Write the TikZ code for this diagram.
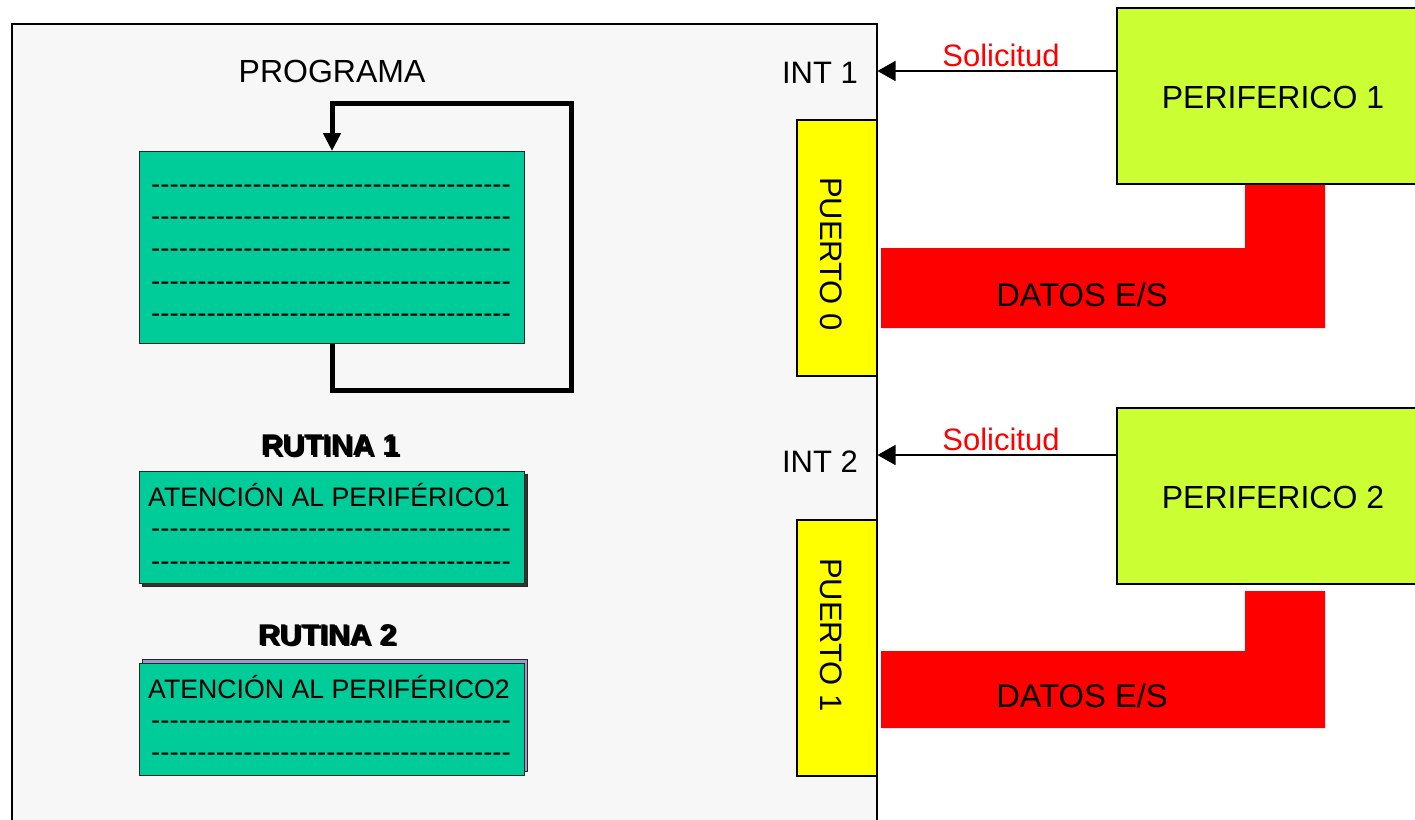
\documentclass[tikz,border=0pt]{standalone}
\usepackage{fontspec}
\setmainfont{Liberation Sans}
\usetikzlibrary{arrows.meta}

\definecolor{panelgray}{HTML}{F7F7F7}
\definecolor{codeteal}{HTML}{00CC99}
\definecolor{perilime}{HTML}{CCFF33}
\definecolor{portyellow}{HTML}{FFFF00}
\definecolor{datared}{HTML}{FF0000}
\definecolor{shadowlav}{HTML}{9999CC}

% a row of separate hyphens (kerns keep them from joining into dashes)
\newcount\hycnt
\newcommand{\hyrow}[1]{\hycnt=0 \loop-\kern0pt\advance\hycnt by 1 \ifnum\hycnt<#1\relax\repeat}

\begin{document}
\begin{tikzpicture}[x=1pt,y=-1pt,
  lbl/.style={inner sep=0, anchor=base, font=\fontsize{31}{36}\selectfont},
  biglbl/.style={inner sep=0, anchor=base, font=\fontsize{32}{38}\selectfont},
  datalbl/.style={inner sep=0, anchor=base, font=\fontsize{32.7}{38}\selectfont},
  redlbl/.style={lbl, text=datared},
  titlelbl/.style={inner sep=0, anchor=base, font=\fontsize{30}{36}\selectfont\bfseries},
  rowlbl/.style={inner sep=0, anchor=base west, font=\fontsize{27.7}{32}\selectfont},
  headlbl/.style={inner sep=0, anchor=base west, font=\fontsize{26.7}{32}\selectfont},
  codebox/.style={draw=black!85, line width=1.2, fill=codeteal, inner sep=0, anchor=north west},
  portbox/.style={draw=black, line width=1.5, fill=portyellow, inner sep=0, anchor=north west},
  peribox/.style={draw=black, line width=1.5, fill=perilime, inner sep=0, anchor=north west},
  portlbl/.style={inner sep=0, rotate=-90, font=\fontsize{31}{36}\selectfont},
  loopln/.style={line width=5, line join=miter, -{Triangle[length=18pt,width=17pt]}},
  reqln/.style={line width=1.5, -{Triangle[length=18pt,width=20pt]}},
  datashape/.style={fill=datared}
]
\useasboundingbox (0,0) rectangle (1415,819);
\clip (0,0) rectangle (1415,819);

% processor panel
\node[draw=black, line width=1.5, fill=panelgray, inner sep=0, anchor=north west,
      minimum width=865, minimum height=830] (cpu) at (11,23) {};

% main program with its endless loop
\node[biglbl] (proglbl) at (332,82) {PROGRAMA};
\node[codebox, minimum width=385, minimum height=192] (prog) at (139,151) {};
\foreach \y [count=\i] in {186,218,250,283,315}
  \node[rowlbl] (progrow\i) at (151,\y+7.5) {\hyrow{39}};
\coordinate (lx) at (332,0);
\coordinate (loopbr) at (571.5,390.5);
\coordinate (looptl) at (332,103.5);
\draw[loopln] (prog.south -| lx) |- (loopbr) |- (looptl) -- (prog.north -| lx);

% interrupt routine 1
\node[titlelbl] (r1shade) at (332,457) {RUTINA 1};
\node[titlelbl] (r1lbl) at (330,455.5) {RUTINA 1};
\node[codebox, fill=black!80, minimum width=385, minimum height=112] (r1shadow) at (142,474) {};
\node[codebox, minimum width=385, minimum height=112] (r1) at (139,471) {};
\node[headlbl] (r1head) at (148,506) {ATENCIÓN AL PERIFÉRICO1};
\node[rowlbl] (r1row1) at (151,537) {\hyrow{39}};
\node[rowlbl] (r1row2) at (151,570.5) {\hyrow{39}};

% interrupt routine 2
\node[titlelbl] (r2shade) at (329,646.5) {RUTINA 2};
\node[titlelbl] (r2lbl) at (327,645) {RUTINA 2};
\node[codebox, fill=shadowlav, minimum width=385, minimum height=112] (r2shadow) at (142,659) {};
\node[codebox, minimum width=385, minimum height=112] (r2) at (139,663) {};
\node[headlbl] (r2head) at (148,698) {ATENCIÓN AL PERIFÉRICO2};
\node[rowlbl] (r2row1) at (151,729.5) {\hyrow{39}};
\node[rowlbl] (r2row2) at (151,761.5) {\hyrow{39}};

% interrupt inputs and ports
\node[lbl] (int1) at (820,83) {INT 1};
\node[lbl] (int2) at (820,472) {INT 2};
\node[portbox, minimum width=80, minimum height=256] (pt0) at (796,119) {};
\node[portlbl] (pt0lbl) at (831,254) {PUERTO 0};
\node[portbox, minimum width=80, minimum height=256] (pt1) at (796,519) {};
\node[portlbl] (pt1lbl) at (831,635) {PUERTO 1};

% data paths
\fill[datashape] (881,248) -- (1245,248) -- (1245,185) -- (1325,185) -- (1325,328) -- (881,328) -- cycle;
\node[datalbl] (data1) at (1082,306) {DATOS E/S};
\fill[datashape] (881,651) -- (1245,651) -- (1245,591) -- (1325,591) -- (1325,728) -- (881,728) -- cycle;
\node[datalbl] (data2) at (1082,707) {DATOS E/S};

% peripherals
\node[peribox, minimum width=320, minimum height=176] (p1) at (1116,7) {};
\node[biglbl] (p1lbl) at (1273,108) {PERIFERICO 1};
\node[peribox, minimum width=320, minimum height=176] (p2) at (1116,407) {};
\node[biglbl] (p2lbl) at (1273,508) {PERIFERICO 2};

% interrupt requests
\coordinate (s1) at (1116,71);
\coordinate (s2) at (1116,455);
\draw[reqln] (s1) -- (s1 -| cpu.east);
\draw[reqln] (s2) -- (s2 -| cpu.east);
\node[redlbl] (req1) at (1001,66) {Solicitud};
\node[redlbl] (req2) at (1001,450) {Solicitud};
\end{tikzpicture}
\end{document}
